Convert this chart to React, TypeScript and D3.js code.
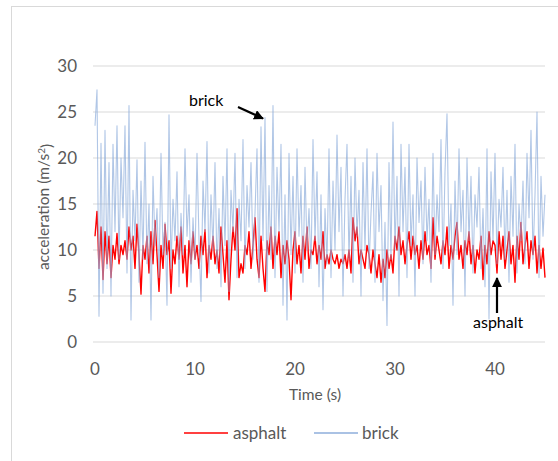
import React from "react";
import * as d3 from "d3";

const timeStep = 0.2;
const yTicks = [0, 5, 10, 15, 20, 25, 30];
const xTicks = [0, 10, 20, 30, 40];
const seriesNames = ["asphalt", "brick"];

const brick = [
  23.5, 27.4, 2.8, 21.6, 5.3,
  23.0, 8.0, 19.5, 5.0, 21.5,
  12.0, 23.5, 9.0, 20.0, 13.5,
  23.5, 7.5, 25.7, 2.4, 16.5,
  11.0, 19.8, 6.5, 17.5, 9.0,
  21.7, 8.5, 15.0, 2.4, 18.0,
  10.5, 14.5, 7.0, 20.5, 9.5,
  13.0, 4.0, 24.7, 8.0, 15.5,
  11.0, 18.5, 6.0, 14.0, 9.5,
  21.0, 11.5, 16.0, 6.5, 13.5,
  9.0, 20.5, 11.0, 4.4, 17.5,
  12.0, 21.8, 7.5, 16.0, 10.0,
  19.5, 8.0, 14.5, 6.0, 18.0,
  10.5, 21.0, 5.5, 16.5, 12.0,
  20.5, 7.0, 15.5, 11.0, 22.0,
  8.0, 17.0, 12.5, 19.5, 9.0,
  14.0, 21.0, 6.5, 23.4, 11.0,
  24.4, 5.5, 17.0, 9.0, 25.7,
  7.0, 19.0, 12.0, 21.5, 4.0,
  16.0, 2.4, 20.5, 9.5, 18.0,
  7.5, 21.0, 11.5, 17.0, 6.5,
  19.0, 10.0, 14.5, 8.0, 22.0,
  11.0, 18.5, 6.0, 16.0, 3.5,
  14.5, 8.5, 21.0, 7.0, 17.5,
  10.0, 22.5, 12.0, 19.0, 5.0,
  15.5, 21.5, 9.0, 18.0, 6.5,
  20.0, 11.5, 16.5, 5.0, 19.5,
  10.0, 21.0, 8.0, 14.0, 18.5,
  6.5, 20.5, 12.0, 17.0, 4.5,
  13.0, 1.8, 19.5, 9.0, 23.9,
  10.0, 18.0, 5.0, 21.5, 12.0,
  19.0, 7.0, 21.5, 10.5, 16.0,
  5.0, 20.0, 13.0, 17.5, 8.5,
  19.0, 11.0, 15.5, 6.5, 20.5,
  9.5, 16.0, 12.0, 22.0, 8.0,
  18.5, 24.8, 10.5, 15.0, 4.0,
  17.5, 9.5, 21.0, 12.0, 16.5,
  5.0, 20.0, 11.0, 18.0, 7.5,
  16.0, 12.5, 19.0, 8.0, 14.5,
  6.0, 21.0, 2.5, 18.5, 11.0,
  20.5, 8.5, 15.5, 12.5, 19.0,
  9.0, 16.5, 6.5, 18.0, 11.5,
  21.5, 7.5, 15.0, 11.0, 17.5,
  8.5, 20.5, 13.5, 23.0, 9.0,
  16.0, 25.0, 7.0, 18.0, 11.5,
  16.0,
];

const asphalt = [
  11.5, 14.2, 8.0, 12.5, 6.8,
  12.0, 8.5, 11.5, 7.0, 10.5,
  9.0, 11.8, 8.5, 10.5, 9.5,
  11.0, 9.0, 12.5, 10.0, 11.5,
  8.0, 12.8, 9.5, 5.2, 10.5,
  9.0, 11.5, 7.5, 12.0, 8.5,
  13.2, 9.5, 5.5, 10.5, 8.0,
  12.8, 9.5, 11.0, 5.3, 10.0,
  8.5, 11.5, 9.0, 12.5, 7.5,
  10.5, 6.0, 11.0, 8.5, 12.0,
  9.0, 10.5, 8.0, 11.5, 9.5,
  12.2, 7.0, 10.5, 9.0, 11.5,
  8.5, 10.0, 7.5, 12.5, 9.5,
  6.5, 11.0, 4.6, 9.0, 12.5,
  10.0, 14.5, 7.0, 8.5, 7.5,
  10.5, 9.5, 12.0, 8.0, 10.5,
  13.5, 9.0, 7.0, 11.5, 8.0,
  5.5, 11.0, 9.5, 12.5, 8.0,
  11.5, 9.5, 12.0, 7.0, 10.5,
  8.5, 11.0, 9.0, 4.6, 10.0,
  12.0, 8.5, 10.5, 7.5, 11.5,
  9.0, 12.5, 8.0, 10.0, 9.5,
  11.5, 8.5, 10.5, 9.0, 12.0,
  8.0, 9.5, 8.5, 10.0, 9.0,
  8.5, 9.5, 8.0, 9.0, 8.5,
  9.5, 8.0, 10.0, 7.5, 13.5,
  11.0, 12.5, 8.5, 10.0, 9.0,
  8.0, 10.5, 9.5, 7.5, 10.0,
  8.5, 7.0, 9.5, 6.5, 9.0,
  7.0, 10.0, 8.0, 9.5, 7.5,
  11.5, 10.0, 12.5, 9.5, 11.0,
  8.5, 10.5, 12.0, 9.0, 11.5,
  9.5, 10.5, 8.0, 11.0, 9.0,
  12.0, 9.5, 10.5, 8.0, 13.5,
  9.0, 11.5, 10.0, 8.5, 11.0,
  9.5, 12.5, 8.0, 10.5, 9.0,
  11.5, 13.0, 9.0, 10.5, 8.0,
  11.0, 9.5, 12.0, 8.5, 10.5,
  7.5, 10.0, 9.0, 11.5, 6.8,
  10.5, 8.5, 12.0, 9.5, 11.0,
  10.5, 7.5, 12.0, 9.0, 11.5,
  8.0, 10.0, 12.0, 8.5, 10.5,
  6.5, 11.5, 9.0, 13.0, 8.5,
  10.5, 12.0, 8.0, 11.0, 9.5,
  11.5, 7.5, 10.5, 8.0, 10.2,
  7.0,
];

const FONT = "Lato, 'Open Sans', sans-serif";

export default function App() {
  const W = 558, H = 461;
  const x = d3.scaleLinear().domain([0, 45]).range([95, 545]);
  const y = d3.scaleLinear().domain([0, 30]).range([342, 66]);
  const line = d3
    .line<number>()
    .x((_, i) => x(i * timeStep))
    .y((d) => y(d));

  return (
    <svg width={W} height={H} style={{ position: "absolute", left: 0, top: 0, background: "#fff" }}>
      <defs>
        <marker id="arr" viewBox="0 0 10 10" refX="9" refY="5" markerWidth="4.5" markerHeight="4.5" orient="auto">
          <path d="M0,0 L10,5 L0,10 z" fill="#000" />
        </marker>
      </defs>
      <rect x={11.5} y={6.5} width={560} height={470} fill="#fff" stroke="#d9d9d9" />
      {yTicks.map((t) => (
        <g key={t}>
          <line x1={93} x2={545} y1={y(t)} y2={y(t)} stroke="#d9d9d9" strokeWidth={1} />
          <text x={77} y={y(t)} dy="0.35em" textAnchor="end" fontSize={17} fill="#595959" fontFamily={FONT}>
            {t}
          </text>
        </g>
      ))}
      {xTicks.map((t) => (
        <text key={t} x={x(t)} y={369} dy="0.35em" textAnchor="middle" fontSize={17} fill="#595959" fontFamily={FONT}>
          {t}
        </text>
      ))}
      <text x={315} y={395} dy="0.35em" textAnchor="middle" fontSize={15.5} fill="#595959" fontFamily={FONT}>
        Time (s)
      </text>
      <text
        transform={`translate(44,207) rotate(-90)`}
        dy="0.35em"
        textAnchor="middle"
        fontSize={15.5}
        fill="#595959"
        fontFamily={FONT}
      >
        acceleration (m/s<tspan dy="-0.45em" fontSize={10}>2</tspan><tspan dy="0.45em">)</tspan>
      </text>
      <path d={line(asphalt) || ""} fill="none" stroke="#ff0000" strokeWidth={1.4} strokeLinejoin="round" />
      <path d={line(brick) || ""} fill="none" stroke="#8eaedb" strokeOpacity={0.7} strokeWidth={1.1} strokeLinejoin="round" />
      {/* annotations */}
      <text x={189} y={100} dy="0.35em" fontSize={16} fill="#000" fontFamily={FONT}>brick</text>
      <line x1={238} y1={107} x2={263} y2={118.5} stroke="#000" strokeWidth={2.2} markerEnd="url(#arr)" />
      <text x={473} y={322} dy="0.35em" fontSize={16} fill="#000" fontFamily={FONT}>asphalt</text>
      <line x1={497} y1={313} x2={497} y2={278} stroke="#000" strokeWidth={2.2} markerEnd="url(#arr)" />
      {/* legend */}
      <line x1={184} x2={228} y1={433} y2={433} stroke="#ff0000" strokeWidth={1.5} />
      <text x={233} y={433} dy="0.35em" fontSize={17} fill="#595959" fontFamily={FONT}>{seriesNames[0]}</text>
      <line x1={314} x2={358} y1={433} y2={433} stroke="#8eaedb" strokeWidth={1.5} />
      <text x={362} y={433} dy="0.35em" fontSize={17} fill="#595959" fontFamily={FONT}>{seriesNames[1]}</text>
    </svg>
  );
}
